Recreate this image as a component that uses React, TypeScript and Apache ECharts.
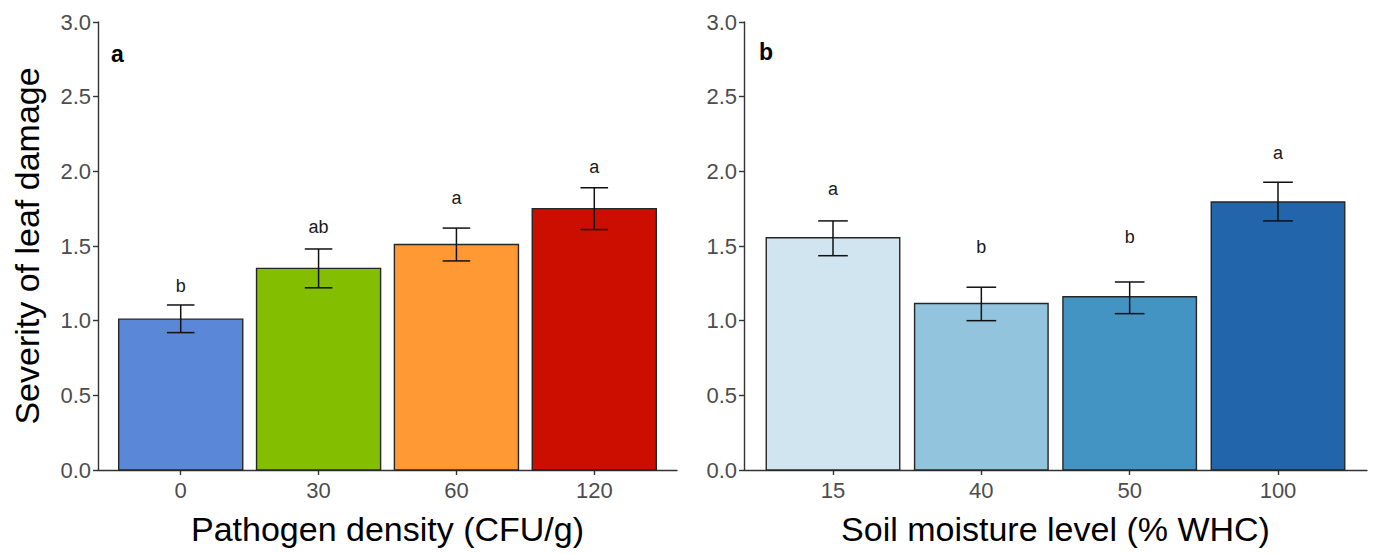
import React, { useEffect, useRef } from "react";
import * as echarts from "echarts";

const pathogenCats = ["0", "30", "60", "120"];
const pathogenMeans = [1.01, 1.35, 1.51, 1.75];
const pathogenLower = [0.92, 1.22, 1.4, 1.61];
const pathogenUpper = [1.105, 1.48, 1.62, 1.89];
const pathogenLetters = ["b", "ab", "a", "a"];
const pathogenLetterY = [1.23, 1.63, 1.82, 2.03];
const pathogenColors = ["#5B87D9", "#84BE00", "#FF9933", "#CC0E00"];

const moistureCats = ["15", "40", "50", "100"];
const moistureMeans = [1.555, 1.115, 1.16, 1.795];
const moistureLower = [1.435, 1.0, 1.047, 1.668];
const moistureUpper = [1.668, 1.224, 1.259, 1.927];
const moistureLetters = ["a", "b", "b", "a"];
const moistureLetterY = [1.88, 1.49, 1.56, 2.125];
const moistureColors = ["#D1E5F0", "#93C4DE", "#4393C3", "#2265AA"];

const yTicks = [0, 0.5, 1, 1.5, 2, 2.5, 3];

const FONT = "'Liberation Sans', Arial, sans-serif";
const AXIS_COLOR = "#333333";
const LABEL_COLOR = "#4D4D4D";

function panelSeries(
  idx: number,
  means: number[],
  lower: number[],
  upper: number[],
  letters: string[],
  letterY: number[],
  colors: string[]
) {
  const pos = means.map((_, i) => i + 1);
  return [
    {
      type: "custom",
      xAxisIndex: idx,
      yAxisIndex: idx,
      clip: false,
      data: pos.map((p, i) => [p, means[i]]),
      encode: { x: 0, y: 1 },
      renderItem: (params: any, api: any) => {
        const x = api.value(0);
        const y = api.value(1);
        const p1 = api.coord([x - 0.45, y]);
        const p2 = api.coord([x + 0.45, 0]);
        return {
          type: "rect",
          shape: { x: p1[0], y: p1[1], width: p2[0] - p1[0], height: p2[1] - p1[1] },
          style: { fill: colors[params.dataIndex], stroke: "#262626", lineWidth: 1.4 },
        };
      },
    },
    {
      type: "custom",
      xAxisIndex: idx,
      yAxisIndex: idx,
      clip: false,
      data: pos.map((p, i) => [p, lower[i], upper[i]]),
      encode: { x: 0, y: [1, 2] },
      renderItem: (params: any, api: any) => {
        const x = api.value(0);
        const lo = api.value(1);
        const hi = api.value(2);
        const top = api.coord([x, hi]);
        const bot = api.coord([x, lo]);
        const l = api.coord([x - 0.1, hi])[0];
        const r = api.coord([x + 0.1, hi])[0];
        const st = { stroke: "#111111", lineWidth: 1.5 };
        return {
          type: "group",
          children: [
            { type: "line", shape: { x1: top[0], y1: top[1], x2: bot[0], y2: bot[1] }, style: st },
            { type: "line", shape: { x1: l, y1: top[1], x2: r, y2: top[1] }, style: st },
            { type: "line", shape: { x1: l, y1: bot[1], x2: r, y2: bot[1] }, style: st },
          ],
        };
      },
    },
    {
      type: "custom",
      xAxisIndex: idx,
      yAxisIndex: idx,
      clip: false,
      data: pos.map((p, i) => [p, letterY[i]]),
      encode: { x: 0, y: 1 },
      renderItem: (params: any, api: any) => {
        const c = api.coord([api.value(0), api.value(1)]);
        return {
          type: "text",
          x: c[0],
          y: c[1],
          style: {
            text: letters[params.dataIndex],
            fill: "#1a1a1a",
            font: `18px ${FONT}`,
            align: "center",
            verticalAlign: "middle",
          },
        };
      },
    },
  ];
}

function xAxis(idx: number, cats: string[], name: string) {
  return {
    type: "value",
    gridIndex: idx,
    min: 0.4,
    max: 4.6,
    name,
    nameLocation: "middle",
    nameGap: 42,
    nameTextStyle: { fontFamily: FONT, fontSize: 34, color: "#000000" },
    splitLine: { show: false },
    axisLine: { show: true, onZero: false, lineStyle: { color: AXIS_COLOR, width: 1.4 } },
    axisTick: {
      show: true,
      customValues: [1, 2, 3, 4],
      length: 5,
      lineStyle: { color: AXIS_COLOR, width: 1.4 },
    },
    axisLabel: {
      customValues: [1, 2, 3, 4],
      formatter: (v: number) => cats[Math.round(v) - 1] ?? "",
      fontFamily: FONT,
      fontSize: 22,
      color: LABEL_COLOR,
      margin: 9,
    },
  };
}

function yAxis(idx: number, name: string) {
  return {
    type: "value",
    gridIndex: idx,
    min: 0,
    max: 3,
    interval: 0.5,
    name,
    nameLocation: "middle",
    nameGap: 54,
    nameTextStyle: { fontFamily: FONT, fontSize: 34, color: "#000000" },
    splitLine: { show: false },
    axisLine: { show: true, onZero: false, lineStyle: { color: AXIS_COLOR, width: 1.4 } },
    axisTick: {
      show: true,
      customValues: yTicks,
      length: 5,
      lineStyle: { color: AXIS_COLOR, width: 1.4 },
    },
    axisLabel: {
      customValues: yTicks,
      formatter: (v: number) => v.toFixed(1),
      fontFamily: FONT,
      fontSize: 22,
      color: LABEL_COLOR,
      margin: 7,
    },
  };
}

export default function App() {
  const ref = useRef<HTMLDivElement>(null);
  useEffect(() => {
    if (!ref.current) return;
    const chart = echarts.init(ref.current, undefined, { renderer: "svg" });
    chart.setOption({
      animation: false,
      backgroundColor: "#ffffff",
      textStyle: { fontFamily: FONT },
      grid: [
        { left: 98, right: 696, top: 22, bottom: 84 },
        { left: 744, right: 6, top: 22, bottom: 84 },
      ],
      xAxis: [
        xAxis(0, pathogenCats, "Pathogen density (CFU/g)"),
        xAxis(1, moistureCats, "Soil moisture level (% WHC)"),
      ],
      yAxis: [yAxis(0, "Severity of leaf damage"), yAxis(1, "")],
      graphic: [
        {
          type: "text",
          left: 111,
          top: 42,
          style: { text: "a", font: `bold 23px ${FONT}`, fill: "#000000" },
        },
        {
          type: "text",
          left: 759,
          top: 40,
          style: { text: "b", font: `bold 23px ${FONT}`, fill: "#000000" },
        },
      ],
      series: [
        ...panelSeries(0, pathogenMeans, pathogenLower, pathogenUpper, pathogenLetters, pathogenLetterY, pathogenColors),
        ...panelSeries(1, moistureMeans, moistureLower, moistureUpper, moistureLetters, moistureLetterY, moistureColors),
      ],
    });
    return () => chart.dispose();
  }, []);
  return (
    <div
      ref={ref}
      style={{ position: "fixed", left: 0, top: 0, width: 1373, height: 554, background: "#fff" }}
    />
  );
}
